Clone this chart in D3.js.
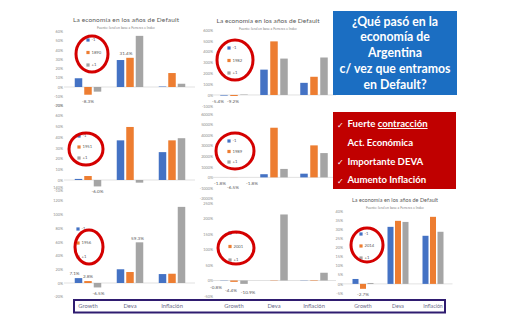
<!DOCTYPE html>
<html>
<head>
<meta charset="utf-8">
<script src="https://cdn.jsdelivr.net/npm/d3@7"></script>
<style>
  body { margin: 0; background: #fff; }
  svg { display: block; font-family: Lato, "Open Sans", sans-serif; }
</style>
</head>
<body>
<div id="slide"></div>
<script>
// Categories and series shared by all the small charts
var categories = ["Growth", "Deva", "Inflación"];
var seriesColors = ["#4472C4", "#ED7D31", "#A5A5A5"];

// values per chart: rows = year -1, default year, year +1; columns = Growth, Deva, Inflación (%)
var v1890 = [[9.4, 29, 0.5], [-8.3, 31.4, 15], [-5, 55, 3.5]];
var v1982 = [[-5.4, 234, 112], [-9.2, 495, 168], [4, 336, 346]];
var v1951 = [[1, 37, 26], [3.7, 49.5, 37], [-6.0, -2.5, 39]];
var v1989 = [[-1.8, 300, 350], [-6.5, 4700, 3030], [-1.8, 800, 2300]];
var v1956 = [[7.1, 20, 13], [2.8, 16, 13.5], [-6.5, 59.3, 111]];
var v2001 = [[-0.8, 0, -0.7], [-4.4, 1, -1.5], [-10.9, 213, 25]];
var v2014 = [[2.7, 31.3, 26.4], [-2.7, 34.6, 36.8], [0.5, 34, 28.6]];

// tick values per chart
var ticks1890 = [-20, -10, 0, 10, 20, 30, 40, 50, 60];
var ticks1982 = [-100, 0, 100, 200, 300, 400, 500, 600];
var ticks1951 = [-10, 0, 10, 20, 30, 40, 50, 60, 70];
var ticks1989 = [-2000, -1000, 0, 1000, 2000, 3000, 4000, 5000, 6000];
var ticks1956 = [-20, 0, 20, 40, 60, 80, 100, 120, 140];
var ticks2001 = [-50, 0, 50, 100, 150, 200, 250];
var ticks2014 = [-5, 0, 5, 10, 15, 20, 25, 30, 35, 40];

var chartTitle = "La economía en los años de Default";
var chartSource = "Fuente: Ieral en base a Ferreres e Indec";

var svg = d3.select("#slide").append("svg")
    .attr("width", 515)
    .attr("height", 328);

svg.append("rect").attr("width", 515).attr("height", 328).attr("fill", "#fff");

// layout of each chart
var panels = [
    { year: "1890", vals: v1890, ticks: ticks1890, x: [67, 193], y: [105.6, 31.2], barW: 7.5, pitch: 9.5, tickX: 63,
      title: { x: 126, y: 22, size: 6.5, w: 106 }, circle: [92, 54, 16, 18], leg: [88, 40, 12.5],
      labels: [[1, 0, 0, 7], [1, 1, -4, -4]] },
    { year: "1982", vals: v1982, ticks: ticks1982, x: [214, 334], y: [105.8, 30], barW: 7.5, pitch: 10, tickX: 213,
      title: { x: 268, y: 23, size: 6.5, w: 103 }, circle: [235, 60, 18, 20], leg: [229, 48, 12.5],
      labels: [[0, 0, -6, 6], [1, 0, -1, 6]] },
    { year: "1951", vals: v1951, ticks: ticks1951, x: [67, 193], y: [190.7, 105], barW: 7.5, pitch: 9.5, tickX: 63,
      circle: [86, 149, 17, 16], leg: [79, 136, 11],
      labels: [[2, 0, 0, 5]] },
    { year: "1989", vals: v1989, ticks: ticks1989, x: [214, 334], y: [198.5, 114], barW: 7.5, pitch: 10, tickX: 213,
      circle: [235, 151, 19, 18], leg: [229, 141, 10.5],
      labels: [[0, 0, -4, 6], [1, 0, -1, 10], [2, 0, 8, 6]] },
    { year: "1956", vals: v1956, ticks: ticks1956, x: [67, 193], y: [296.7, 187], barW: 7.5, pitch: 9.5, tickX: 63,
      circle: [89, 247, 14, 17], leg: [78, 229, 14],
      labels: [[0, 0, -4, -4], [1, 0, 0, -4], [2, 0, 1, 6], [2, 1, -2, -4]] },
    { year: "2001", vals: v2001, ticks: ticks2001, x: [214, 334], y: [296, 203], barW: 7.5, pitch: 10, tickX: 213,
      circle: [236, 248, 18, 16], leg: [230, 233, 13.5],
      labels: [[0, 0, -8, 7], [1, 0, -3, 9], [2, 0, 4, 9]] },
    { year: "2014", vals: v2014, ticks: ticks2014, x: [345.5, 450.5], y: [293, 211], barW: 6, pitch: 7.5, tickX: 343,
      title: { x: 395, y: 202, size: 5.4, w: 86 }, circle: [367, 245, 16, 17], leg: [361, 234, 12],
      labels: [[1, 0, 0, 6]], bottom: true }
];
panels[4].bottom = true;
panels[5].bottom = true;

panels.forEach(function(p) {
    var g = svg.append("g");

    var yScale = d3.scaleLinear()
        .domain([p.ticks[0], p.ticks[p.ticks.length - 1]])
        .range(p.y);

    var xOuter = d3.scaleBand().domain(categories).range(p.x);
    var xInner = d3.scaleBand().domain([0, 1, 2])
        .range([-1.5 * p.pitch, 1.5 * p.pitch])
        .paddingInner((p.pitch - p.barW) / p.pitch)
        .paddingOuter((p.pitch - p.barW) / p.pitch / 2);

    if (p.title) {
        g.append("text")
            .attr("x", p.title.x).attr("y", p.title.y)
            .attr("text-anchor", "middle")
            .attr("font-size", p.title.size)
            .attr("textLength", p.title.w)
            .attr("fill", "#595959")
            .text(chartTitle);
        g.append("text")
            .attr("x", p.title.x).attr("y", p.title.y + 7)
            .attr("text-anchor", "middle")
            .attr("font-size", 3.4)
            .attr("fill", "#7f7f7f")
            .text(chartSource);
    }

    // y axis labels only
    var leftAxis = d3.axisLeft(yScale)
        .tickValues(p.ticks)
        .tickSize(0)
        .tickPadding(0)
        .tickFormat(function(d) { return d + "%"; });

    var axisG = g.append("g")
        .attr("transform", "translate(" + p.tickX + ",0)")
        .call(leftAxis);
    axisG.select(".domain").remove();
    axisG.selectAll("text")
        .attr("font-size", 3.8)
        .attr("fill", "#8c8c8c")
        .attr("font-family", "Lato, sans-serif");

    // zero line
    g.append("line")
        .attr("x1", p.x[0] - 3).attr("x2", p.x[1] + 2)
        .attr("y1", yScale(0)).attr("y2", yScale(0))
        .attr("stroke", "#d9d9d9")
        .attr("stroke-width", 0.8);

    var bars = [];
    p.vals.forEach(function(row, s) {
        row.forEach(function(v, c) {
            bars.push({ s: s, c: c, v: v });
        });
    });

    g.selectAll("rect.bar")
        .data(bars)
        .enter()
        .append("rect")
        .attr("class", "bar")
        .attr("x", function(d) { return xOuter(categories[d.c]) + xOuter.bandwidth() / 2 + xInner(d.s); })
        .attr("width", xInner.bandwidth())
        .attr("y", function(d) { return yScale(Math.max(0, d.v)); })
        .attr("height", function(d) { return Math.abs(yScale(d.v) - yScale(0)); })
        .attr("fill", function(d) { return seriesColors[d.s]; });

    // data labels
    p.labels.forEach(function(l) {
        var v = p.vals[l[0]][l[1]];
        var bx = xOuter(categories[l[1]]) + xOuter.bandwidth() / 2 + xInner(l[0]) + xInner.bandwidth() / 2;
        var by = yScale(v);
        g.append("text")
            .attr("x", bx + l[2])
            .attr("y", by + l[3])
            .attr("text-anchor", "middle")
            .attr("dominant-baseline", "middle")
            .attr("font-size", 4.6)
            .attr("fill", "#595959")
            .text(v.toFixed(1) + "%");
    });

    // legend inside the red circle
    var legendNames = ["-1", p.year, "+1"];
    legendNames.forEach(function(name, i) {
        var ly = p.leg[1] + i * p.leg[2];
        g.append("rect")
            .attr("x", p.leg[0] - 1.6).attr("y", ly - 1.6)
            .attr("width", 3.2).attr("height", 3.2)
            .attr("fill", seriesColors[i]);
        g.append("text")
            .attr("x", p.leg[0] + 3.5).attr("y", ly)
            .attr("dominant-baseline", "middle")
            .attr("font-size", 4.2)
            .attr("fill", "#595959")
            .text(name);
    });

    g.append("ellipse")
        .attr("cx", p.circle[0]).attr("cy", p.circle[1])
        .attr("rx", p.circle[2]).attr("ry", p.circle[3])
        .attr("fill", "none")
        .attr("stroke", "#d40000")
        .attr("stroke-width", 3);

    // category names under the bottom row of charts
    if (p.bottom) {
        g.selectAll("text.cat")
            .data(categories)
            .enter()
            .append("text")
            .attr("class", "cat")
            .attr("x", function(d) { return xOuter(d) + xOuter.bandwidth() / 2; })
            .attr("y", 306.5)
            .attr("text-anchor", "middle")
            .attr("dominant-baseline", "middle")
            .attr("font-size", p.year === "2014" ? 5.2 : 5.8)
            .attr("fill", "#6a6a88")
            .text(function(d) { return d; });
    }
});

// frame along the bottom row
svg.append("rect")
    .attr("x", 74).attr("y", 300)
    .attr("width", 371).attr("height", 12.5)
    .attr("fill", "none")
    .attr("stroke", "#2f1c70")
    .attr("stroke-width", 2);

// question box
var qBox = svg.append("g");
qBox.append("rect")
    .attr("x", 333).attr("y", 11)
    .attr("width", 124).attr("height", 84)
    .attr("fill", "#1B6EC2");
var qLines = ["¿Qué pasó en la", "economía de", "Argentina", "c/ vez que entramos", "en Default?"];
qBox.selectAll("text")
    .data(qLines)
    .enter()
    .append("text")
    .attr("x", 395)
    .attr("y", function(d, i) { return 22.5 + i * 15.8; })
    .attr("text-anchor", "middle")
    .attr("dominant-baseline", "middle")
    .attr("font-size", 12.3)
    .attr("font-weight", "bold")
    .attr("fill", "#fff")
    .text(function(d) { return d; });

// red box with conclusions
var rBox = svg.append("g");
rBox.append("rect")
    .attr("x", 333).attr("y", 112)
    .attr("width", 123).attr("height", 77)
    .attr("fill", "#C00000");
var bullets = [
    { check: true, parts: [["Fuerte ", false], ["contracción", true]], y: 125 },
    { check: false, parts: [["Act. Económica", false]], y: 143.5 },
    { check: true, parts: [["Importante DEVA", false]], y: 162.5 },
    { check: true, parts: [["Aumento Inflación", false]], y: 181 }
];
bullets.forEach(function(b) {
    if (b.check) {
        rBox.append("text")
            .attr("x", 337).attr("y", b.y)
            .attr("dominant-baseline", "middle")
            .attr("font-size", 8)
            .attr("fill", "#fff")
            .attr("font-family", "DejaVu Sans, sans-serif")
            .text("✓");
    }
    var t = rBox.append("text")
        .attr("x", 347.5).attr("y", b.y)
        .attr("dominant-baseline", "middle")
        .attr("font-size", 9.6)
        .attr("font-weight", "bold")
        .attr("fill", "#fff");
    b.parts.forEach(function(part) {
        t.append("tspan")
            .attr("text-decoration", part[1] ? "underline" : null)
            .text(part[0]);
    });
});
</script>
</body>
</html>
